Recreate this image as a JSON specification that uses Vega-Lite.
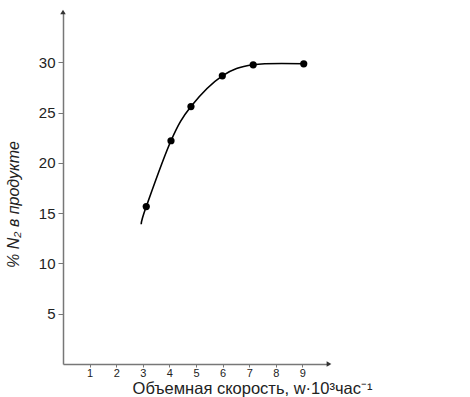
{
  "$schema": "https://vega.github.io/schema/vega-lite/v6.json",
  "width": 266,
  "height": 352,
  "autosize": "none",
  "padding": {"left": 63, "top": 12, "right": 141, "bottom": 33},
  "background": "white",
  "config": {"view": {"stroke": null}, "font": "Liberation Sans"},
  "datasets": {
    "curve": [
      {"w": 2.94, "n2": 13.9},
      {"w": 3.13, "n2": 15.65},
      {"w": 4.06, "n2": 22.2},
      {"w": 4.81, "n2": 25.6},
      {"w": 5.99, "n2": 28.65},
      {"w": 7.15, "n2": 29.75},
      {"w": 9.05, "n2": 29.85}
    ],
    "points": [
      {"w": 3.13, "n2": 15.65},
      {"w": 4.06, "n2": 22.2},
      {"w": 4.81, "n2": 25.6},
      {"w": 5.99, "n2": 28.65},
      {"w": 7.15, "n2": 29.75},
      {"w": 9.05, "n2": 29.85}
    ],
    "yAxisEnd": [{"w": 0, "n2": 35}],
    "xAxisEnd": [{"w": 10, "n2": 0}]
  },
  "encoding": {
    "x": {
      "field": "w", "type": "quantitative",
      "scale": {"domain": [0, 10], "nice": false, "zero": true},
      "axis": {
        "values": [1, 2, 3, 4, 5, 6, 7, 8, 9],
        "grid": false,
        "labelOverlap": false, "labelFlush": false, "labelBound": false,
        "domainColor": "#777", "domainWidth": 1.5,
        "tickColor": "#777", "tickSize": 3, "tickWidth": 1,
        "labelFontSize": 11, "labelColor": "#222", "labelPadding": 0,
        "title": "Объемная скорость, w·10³час⁻¹",
        "titleFontSize": 16.5, "titleFontWeight": "normal", "titleColor": "#222",
        "titleX": 189, "titleY": 29, "titleAlign": "center", "titleBaseline": "alphabetic"
      }
    },
    "y": {
      "field": "n2", "type": "quantitative",
      "scale": {"domain": [0, 35], "nice": false, "zero": true},
      "axis": {
        "values": [5, 10, 15, 20, 25, 30],
        "grid": false,
        "labelOverlap": false,
        "domainColor": "#777", "domainWidth": 1.5,
        "tickColor": "#777", "tickSize": 5, "tickWidth": 1,
        "labelFontSize": 15, "labelColor": "#222", "labelPadding": 3,
        "title": "% N₂ в продукте",
        "titleFontSize": 16, "titleFontWeight": "normal", "titleFontStyle": "italic", "titleColor": "#222",
        "titleX": -50, "titleY": 192, "titleAlign": "center", "titleBaseline": "middle", "titleAngle": -90
      }
    }
  },
  "layer": [
    {
      "data": {"name": "curve"},
      "mark": {"type": "line", "interpolate": "cardinal", "color": "black", "strokeWidth": 1.6}
    },
    {
      "data": {"name": "points"},
      "mark": {"type": "point", "filled": true, "color": "black", "opacity": 1, "size": 52, "shape": "circle"}
    },
    {
      "data": {"name": "yAxisEnd"},
      "mark": {"type": "point", "filled": true, "color": "#333", "opacity": 1, "shape": "triangle-up", "size": 30}
    },
    {
      "data": {"name": "xAxisEnd"},
      "mark": {"type": "point", "filled": true, "color": "#333", "opacity": 1, "shape": "triangle-right", "size": 30}
    }
  ]
}
